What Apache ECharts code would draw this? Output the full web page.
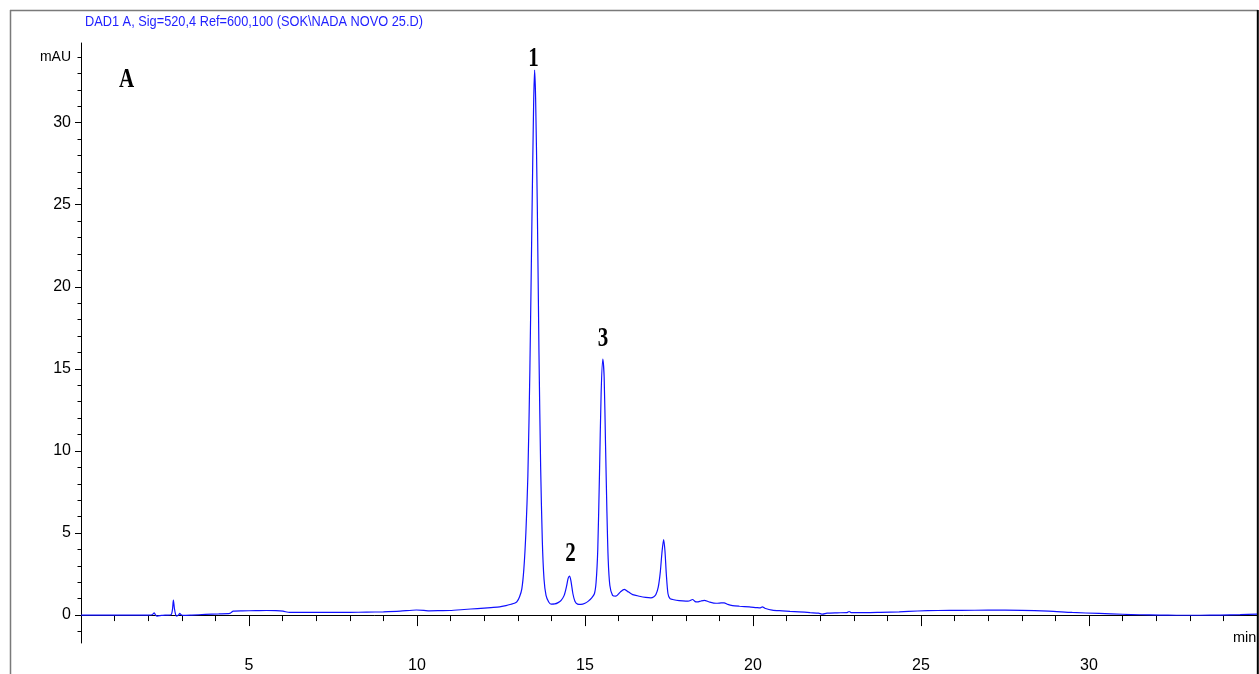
<!DOCTYPE html>
<html>
<head>
<meta charset="utf-8">
<script src="https://cdn.jsdelivr.net/npm/echarts@6/dist/echarts.min.js"></script>
<style>
html,body{margin:0;padding:0;background:#fff;overflow:hidden;}
#chart{width:1259px;height:674px;}
</style>
</head>
<body>
<div id="chart"></div>
<script>
// Retention time (min)
const times = [
  0.0, 0.5, 1.0, 1.5, 2.0, 2.12, 2.18, 2.22, 2.27, 2.4, 2.55, 2.68, 2.72, 2.75, 2.78, 2.82, 2.85, 2.91, 2.94, 2.98,
  3.04, 3.3, 3.7, 4.1, 4.43, 4.48, 4.53, 4.8, 5.2, 5.52, 5.8, 6.01, 6.21, 6.6, 7.0, 7.5, 8.0, 8.5, 9.0, 9.5,
  9.98, 10.2, 10.37, 10.7, 10.97, 11.4, 11.8, 12.2, 12.46, 12.65, 12.8, 12.9, 12.97, 13.05, 13.12, 13.18, 13.24, 13.30, 13.36, 13.42,
  13.47, 13.50, 13.53, 13.58, 13.63, 13.68, 13.73, 13.78, 13.84, 13.92, 13.99, 14.1, 14.2, 14.29, 14.38, 14.45, 14.50, 14.54, 14.58, 14.64,
  14.70, 14.78, 14.88, 15.0, 15.1, 15.2, 15.28, 15.33, 15.38, 15.43, 15.48, 15.53, 15.57, 15.61, 15.65, 15.69, 15.74, 15.82, 15.92, 16.05,
  16.17, 16.3, 16.42, 16.62, 16.8, 16.96, 17.05, 17.11, 17.18, 17.24, 17.29, 17.34, 17.38, 17.42, 17.47, 17.53, 17.61, 17.8, 18.0, 18.1,
  18.2, 18.28, 18.34, 18.45, 18.55, 18.7, 18.9, 19.05, 19.14, 19.25, 19.39, 19.6, 19.89, 20.1, 20.22, 20.28, 20.35, 20.57, 20.87, 21.1,
  21.37, 21.7, 21.95, 22.07, 22.2, 22.5, 22.8, 22.86, 22.92, 23.36, 23.8, 24.35, 24.9, 25.5, 26.2, 27.0, 28.0, 28.8, 29.5, 30.3,
  31.0, 31.5, 32.1, 32.6, 33.3, 33.9, 34.5, 35.0
];
// Absorbance (mAU)
const mAU = [
  0.0, 0.0, 0.0, 0.0, 0.0, 0.02, 0.14, 0.0, -0.06, -0.02, 0.0, 0.02, 0.3, 0.91, 0.4, 0.0, -0.06, 0.02, 0.1, 0.02,
  -0.02, 0.0, 0.04, 0.07, 0.1, 0.18, 0.24, 0.26, 0.27, 0.28, 0.27, 0.24, 0.16, 0.17, 0.16, 0.16, 0.17, 0.18, 0.2, 0.24,
  0.31, 0.29, 0.26, 0.27, 0.28, 0.34, 0.4, 0.46, 0.5, 0.58, 0.66, 0.72, 0.8, 1.1, 1.6, 2.8, 5.0, 8.5, 15, 24,
  31, 33.2, 31.5, 25, 16, 9, 4.5, 2.2, 1.2, 0.8, 0.67, 0.68, 0.76, 0.9, 1.2, 1.75, 2.25, 2.38, 2.1, 1.3,
  0.85, 0.67, 0.65, 0.72, 0.85, 1.05, 1.3, 2.0, 4.0, 8.5, 13.5, 15.6, 14.5, 10.5, 6.5, 3.4, 1.8, 1.2, 1.15, 1.4,
  1.57, 1.4, 1.25, 1.15, 1.08, 1.05, 1.12, 1.25, 1.7, 2.6, 3.8, 4.6, 3.9, 2.5, 1.3, 1.0, 0.95, 0.88, 0.85, 0.86,
  0.95, 0.82, 0.8, 0.86, 0.9, 0.8, 0.72, 0.74, 0.75, 0.65, 0.58, 0.54, 0.5, 0.46, 0.44, 0.5, 0.42, 0.3, 0.26, 0.23,
  0.2, 0.15, 0.12, 0.06, 0.12, 0.14, 0.15, 0.22, 0.15, 0.15, 0.17, 0.2, 0.25, 0.28, 0.29, 0.3, 0.29, 0.24, 0.16, 0.1,
  0.05, 0.02, 0.0, -0.01, -0.01, 0.0, 0.03, 0.06
];
const xLabelValues = [5, 10, 15, 20, 25, 30];
const xMinorTicks = [1,2,3,4,5,6,7,8,9,10,11,12,13,14,15,16,17,18,19,20,21,22,23,24,25,26,27,28,29,30,31,32,33,34];
const xMajorTicks = [5, 10, 15, 20, 25, 30];
const yLabelValues = [0, 5, 10, 15, 20, 25, 30, 34];
const yMinorTicks = [-1,0,1,2,3,4,5,6,7,8,9,10,11,12,13,14,15,16,17,18,19,20,21,22,23,24,25,26,27,28,29,30,31,32,33,34];
const yMajorTicks = [0, 5, 10, 15, 20, 25, 30];
const titleText = 'DAD1 A, Sig=520,4 Ref=600,100 (SOK\\NADA NOVO 25.D)';
const yUnit = 'mAU';
const xUnit = 'min';
const panelLabel = 'A';
const peakNames = ['1', '2', '3'];

const SANS = "'Liberation Sans',Arial,sans-serif";
const SERIF = "'Liberation Serif','DejaVu Serif',serif";

const chart = echarts.init(document.getElementById('chart'), null, {renderer: 'canvas', width: 1259, height: 674});
const seriesData = times.map((t, i) => [t, mAU[i]]);

const option = {
  animation: false,
  backgroundColor: '#ffffff',
  grid: {left: 81, right: 2, top: 43, bottom: 31, containLabel: false, outerBoundsMode: 'none'},
  xAxis: [{
    type: 'value', min: 0, max: 35, interval: 1,
    axisLine: {show: true, lineStyle: {color: '#000', width: 1}},
    axisTick: {show: true, length: 6, customValues: xMinorTicks, lineStyle: {color: '#000'}},
    axisLabel: {show: true, customValues: xLabelValues, margin: 15, color: '#000', fontSize: 16, fontFamily: SANS},
    splitLine: {show: false},
    name: xUnit, nameLocation: 'end', nameGap: -24,
    nameTextStyle: {color: '#000', fontSize: 14.5, fontFamily: SANS, verticalAlign: 'top', align: 'left', padding: [15, 0, 0, 0]}
  }, {
    type: 'value', min: 0, max: 35, interval: 5, position: 'bottom',
    axisLine: {show: false},
    axisTick: {show: true, length: 11, customValues: xMajorTicks, lineStyle: {color: '#000'}},
    axisLabel: {show: false},
    splitLine: {show: false}
  }],
  yAxis: [{
    type: 'value', min: -1.7, max: 34.85,
    axisLine: {show: true, lineStyle: {color: '#000', width: 1}},
    axisTick: {show: true, length: 3.5, customValues: yMinorTicks, lineStyle: {color: '#000'}},
    axisLabel: {
      show: true, customValues: yLabelValues, margin: 10, color: '#000', fontSize: 16, fontFamily: SANS,
      formatter: v => (v === 34 ? '{u|' + yUnit + '}' : String(v)),
      rich: {u: {fontSize: 14, fontFamily: SANS, color: '#000'}}
    },
    splitLine: {show: false}
  }, {
    type: 'value', min: -1.7, max: 34.85, position: 'left',
    axisLine: {show: false},
    axisTick: {show: true, length: 6, customValues: yMajorTicks, lineStyle: {color: '#000'}},
    axisLabel: {show: false},
    splitLine: {show: false}
  }],
  series: [{
    type: 'line', xAxisIndex: 0, yAxisIndex: 0,
    data: seriesData, showSymbol: false, symbol: 'none',
    smooth: 0.25,
    lineStyle: {color: '#1010ff', width: 1.2},
    z: 3
  }]
};
chart.setOption(option);

function txt(x, y, s) {
  return {
    type: 'text', x: x, y: y, scaleX: 0.75, z: 10,
    style: {text: s, fontSize: 28, fontWeight: 'bold', fontFamily: SERIF, fill: '#000',
            align: 'center', verticalAlign: 'middle', textAlign: 'center', textVerticalAlign: 'middle'}
  };
}
chart.setOption({
  graphic: [
    {type: 'line', shape: {x1: 10, y1: 10.5, x2: 1258, y2: 10.5}, style: {stroke: '#7a7a7a', lineWidth: 1.5}, z: 1},
    {type: 'line', shape: {x1: 10.5, y1: 10, x2: 10.5, y2: 674}, style: {stroke: '#7a7a7a', lineWidth: 1.5}, z: 1},
    {type: 'line', shape: {x1: 1257.8, y1: 10, x2: 1257.8, y2: 674}, style: {stroke: '#000', lineWidth: 2}, z: 1},
    {type: 'text', x: 85, y: 22, scaleX: 0.824, z: 10,
     style: {text: titleText, fontSize: 15.5, fontFamily: SANS, fill: '#1f1fff',
             align: 'left', verticalAlign: 'middle', textAlign: 'left', textVerticalAlign: 'middle'}},
    txt(126.5, 80, panelLabel),
    txt(533.5, 58.5, peakNames[0]),
    txt(570.5, 554, peakNames[1]),
    txt(603, 339, peakNames[2])
  ]
});
</script>
</body>
</html>
